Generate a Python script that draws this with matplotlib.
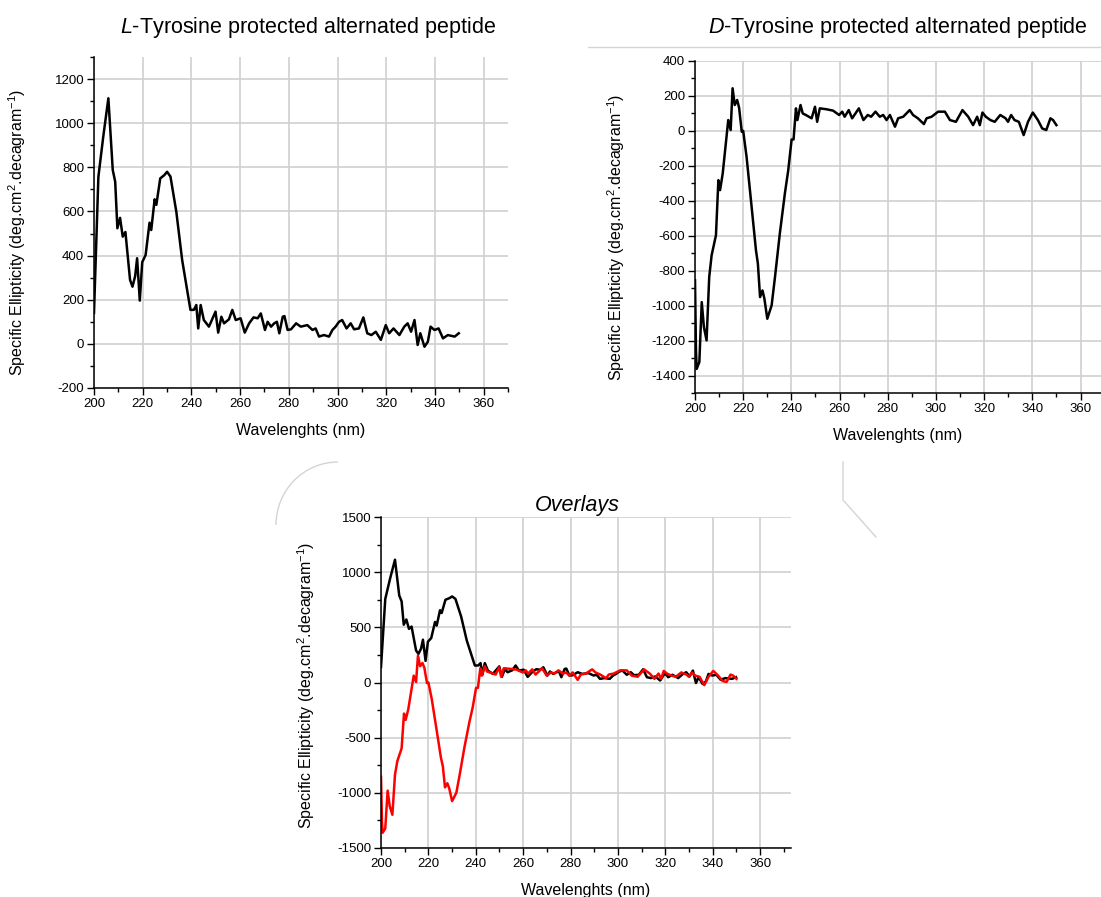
import matplotlib
matplotlib.use("Agg")
import matplotlib.pyplot as plt
from matplotlib.patches import Arc
from matplotlib.lines import Line2D
from matplotlib.ticker import MultipleLocator

#
# --- CD spectra (wavelength in nm, specific ellipticity)
#
L_WL = [200.0, 201.8, 203.8, 205.9, 207.7, 208.7, 209.6, 210.7, 211.8, 212.9,
        214.8, 215.8, 216.9, 217.7, 218.8, 219.8, 221.2, 222.8, 223.5, 224.9,
        225.6, 227.2, 228.9, 230.0, 231.4, 233.8, 236.2, 239.6, 241.0, 242.0,
        242.8, 243.8, 245.1, 247.2, 249.9, 251.0, 252.3, 253.4, 255.4, 256.8,
        258.2, 260.2, 261.9, 263.7, 265.5, 267.2, 268.5, 270.2, 271.3, 272.7,
        274.0, 275.1, 276.1, 277.5, 278.2, 279.5, 280.9, 283.0, 284.9, 287.6,
        289.7, 291.0, 292.4, 294.4, 296.5, 297.9, 299.2, 300.6, 301.9, 303.7,
        305.4, 306.8, 308.8, 310.6, 312.2, 313.9, 315.7, 317.8, 319.8, 321.2,
        323.0, 325.4, 327.4, 328.8, 330.2, 331.6, 332.9, 334.0, 335.7, 337.1,
        338.2, 339.8, 341.5, 343.3, 345.3, 348.1, 349.8]
L_VAL = [140, 757, 939, 1113, 788, 735, 524, 571, 486, 507,
         290, 259, 307, 388, 196, 370, 403, 549, 516, 655,
         630, 750, 765, 780, 758, 599, 380, 154, 154, 176,
         70, 176, 108, 78, 146, 51, 123, 93, 111, 154,
         108, 116, 51, 93, 120, 116, 138, 63, 100, 78,
         93, 100, 48, 123, 126, 63, 66, 93, 78, 85,
         63, 70, 33, 40, 33, 63, 78, 100, 108, 70,
         93, 66, 70, 120, 48, 40, 55, 18, 85, 48,
         70, 40, 78, 93, 55, 108, -5, 48, -13, 10,
         78, 63, 70, 25, 40, 33, 48]

D_WL = [200.0, 200.4, 200.7, 201.8, 202.8, 203.7, 204.8, 205.9, 206.9, 208.7,
        209.7, 210.4, 211.5, 213.8, 214.8, 215.6, 216.5, 217.5, 218.3, 219.4,
        220.0, 221.4, 223.5, 225.3, 226.1, 227.0, 228.0, 228.8, 230.0, 231.8,
        233.2, 235.2, 237.3, 238.7, 240.1, 240.9, 241.9, 242.5, 243.8, 244.7,
        246.0, 248.4, 249.8, 250.7, 251.8, 254.5, 257.3, 259.8, 261.1, 262.1,
        263.8, 265.2, 266.6, 268.0, 269.9, 271.7, 273.1, 274.9, 276.7, 278.1,
        279.5, 280.9, 283.0, 284.3, 286.4, 289.1, 290.5, 292.5, 295.0, 296.1,
        298.2, 300.9, 303.7, 305.8, 308.3, 311.0, 313.4, 315.4, 317.1, 318.2,
        319.3, 320.7, 322.6, 324.4, 326.7, 328.9, 329.9, 331.2, 332.6, 334.4,
        336.4, 338.2, 340.2, 342.3, 344.1, 345.8, 347.5, 348.6, 350.0]
D_VAL = [-855, -1256, -1362, -1323, -980, -1123, -1199, -836, -712, -597,
         -282, -339, -244, 62, 5, 244, 148, 177, 133, -5,
         0, -148, -435, -683, -760, -951, -913, -960, -1075, -999,
         -836, -588, -358, -225, -49, -49, 129, 62, 148, 100,
         91, 72, 138, 52, 129, 124, 116, 91, 110, 81,
         119, 72, 100, 129, 62, 91, 81, 110, 81, 91,
         62, 91, 24, 72, 81, 119, 91, 72, 39, 72,
         81, 110, 110, 62, 52, 119, 81, 33, 81, 33,
         105, 81, 62, 52, 91, 72, 52, 91, 62, 52,
         -24, 52, 105, 62, 14, 5, 72, 62, 33]

TITLE_L = r"$\mathit{L}$-Tyrosine protected alternated peptide"
TITLE_D = r"$\mathit{D}$-Tyrosine protected alternated peptide"
TITLE_OVERLAY = "Overlays"
X_LABEL = "Wavelenghts (nm)"
Y_LABEL = r"Specific Ellipticity (deg.cm$^{2}$.decagram$^{-1}$)"

#
# --- Style
#
plt.rcParams["font.family"] = "Liberation Sans"
plt.rcParams["mathtext.fontset"] = "custom"
plt.rcParams["mathtext.rm"] = "Liberation Sans"
plt.rcParams["mathtext.it"] = "Liberation Sans:italic"
plt.rcParams["axes.unicode_minus"] = False

FIG_W, FIG_H = 1101, 897
GRID_COLOR = "#d0d0d0"
DECOR_COLOR = "#d4d4d4"


def px_box(left, top, right, bottom):
    """Convert a pixel box of the picture to a figure-fraction rect."""
    return [left / FIG_W, 1 - bottom / FIG_H, (right - left) / FIG_W, (bottom - top) / FIG_H]


def style_axes(ax, xlim, ylim, ymajor, label_x, label_y):
    ax.set_xlim(xlim)
    ax.set_ylim(ylim)
    ax.xaxis.set_major_locator(MultipleLocator(20))
    ax.xaxis.set_minor_locator(MultipleLocator(10))
    ax.yaxis.set_major_locator(MultipleLocator(ymajor))
    ax.yaxis.set_minor_locator(MultipleLocator(ymajor / 2))
    ax.spines["top"].set_visible(False)
    ax.spines["right"].set_visible(False)
    for side in ("left", "bottom"):
        ax.spines[side].set_linewidth(1.1)
    ax.tick_params(which="major", direction="out", length=5, width=1.0, labelsize=9.5, pad=2)
    ax.tick_params(which="minor", direction="out", length=3, width=1.0)
    ax.grid(True, which="major", color=GRID_COLOR, lw=1.2)
    ax.set_axisbelow(True)
    ax.set_xlabel(X_LABEL, fontsize=11.5)
    ax.set_ylabel(Y_LABEL, fontsize=11.5)
    ax.xaxis.set_label_coords(0.5, -0.105)
    ax.yaxis.set_label_coords(label_x, label_y)


fig = plt.figure(figsize=(FIG_W / 100, FIG_H / 100), dpi=100)

#
# --- L-Tyrosine panel
#
ax1 = fig.add_axes(px_box(94, 57, 508, 388))
ax1.plot(L_WL, L_VAL, color="black", lw=1.8)
style_axes(ax1, (200, 370), (-200, 1300), 200, -0.16, 0.47)

#
# --- D-Tyrosine panel
#
ax2 = fig.add_axes(px_box(695, 61, 1101, 393))
ax2.plot(D_WL, D_VAL, color="black", lw=1.8)
style_axes(ax2, (200, 368.5), (-1500, 400), 200, -0.168, 0.47)

#
# --- Overlay panel
#
ax3 = fig.add_axes(px_box(381, 517, 791, 848))
ax3.plot(L_WL, L_VAL, color="black", lw=1.8)
ax3.plot(D_WL, D_VAL, color="red", lw=1.8)
style_axes(ax3, (200, 373), (-1500, 1500), 500, -0.155, 0.49)

#
# --- Titles
#
fig.text(308 / FIG_W, 1 - 28 / FIG_H, TITLE_L, ha="center", va="center", fontsize=15.5)
fig.text(898 / FIG_W, 1 - 28 / FIG_H, TITLE_D, ha="center", va="center", fontsize=15.5)
fig.text(577 / FIG_W, 1 - 506 / FIG_H, TITLE_OVERLAY, ha="center", va="center",
         fontsize=15.5, style="italic")

#
# --- Leftover frame lines from the source composite
#
fig.add_artist(Line2D([588 / FIG_W, 1.0], [1 - 47 / FIG_H] * 2, color=DECOR_COLOR, lw=1.0))
fig.add_artist(Line2D([843 / FIG_W, 843 / FIG_W, 876 / FIG_W],
                      [1 - 462 / FIG_H, 1 - 500 / FIG_H, 1 - 537 / FIG_H],
                      color=DECOR_COLOR, lw=1.0))
fig.add_artist(Arc((338 / FIG_W, 1 - 525 / FIG_H), 124 / FIG_W, 126 / FIG_H,
                   theta1=90, theta2=180, color=DECOR_COLOR, lw=1.0,
                   transform=fig.transFigure))

fig.savefig("out.png", dpi=100)
